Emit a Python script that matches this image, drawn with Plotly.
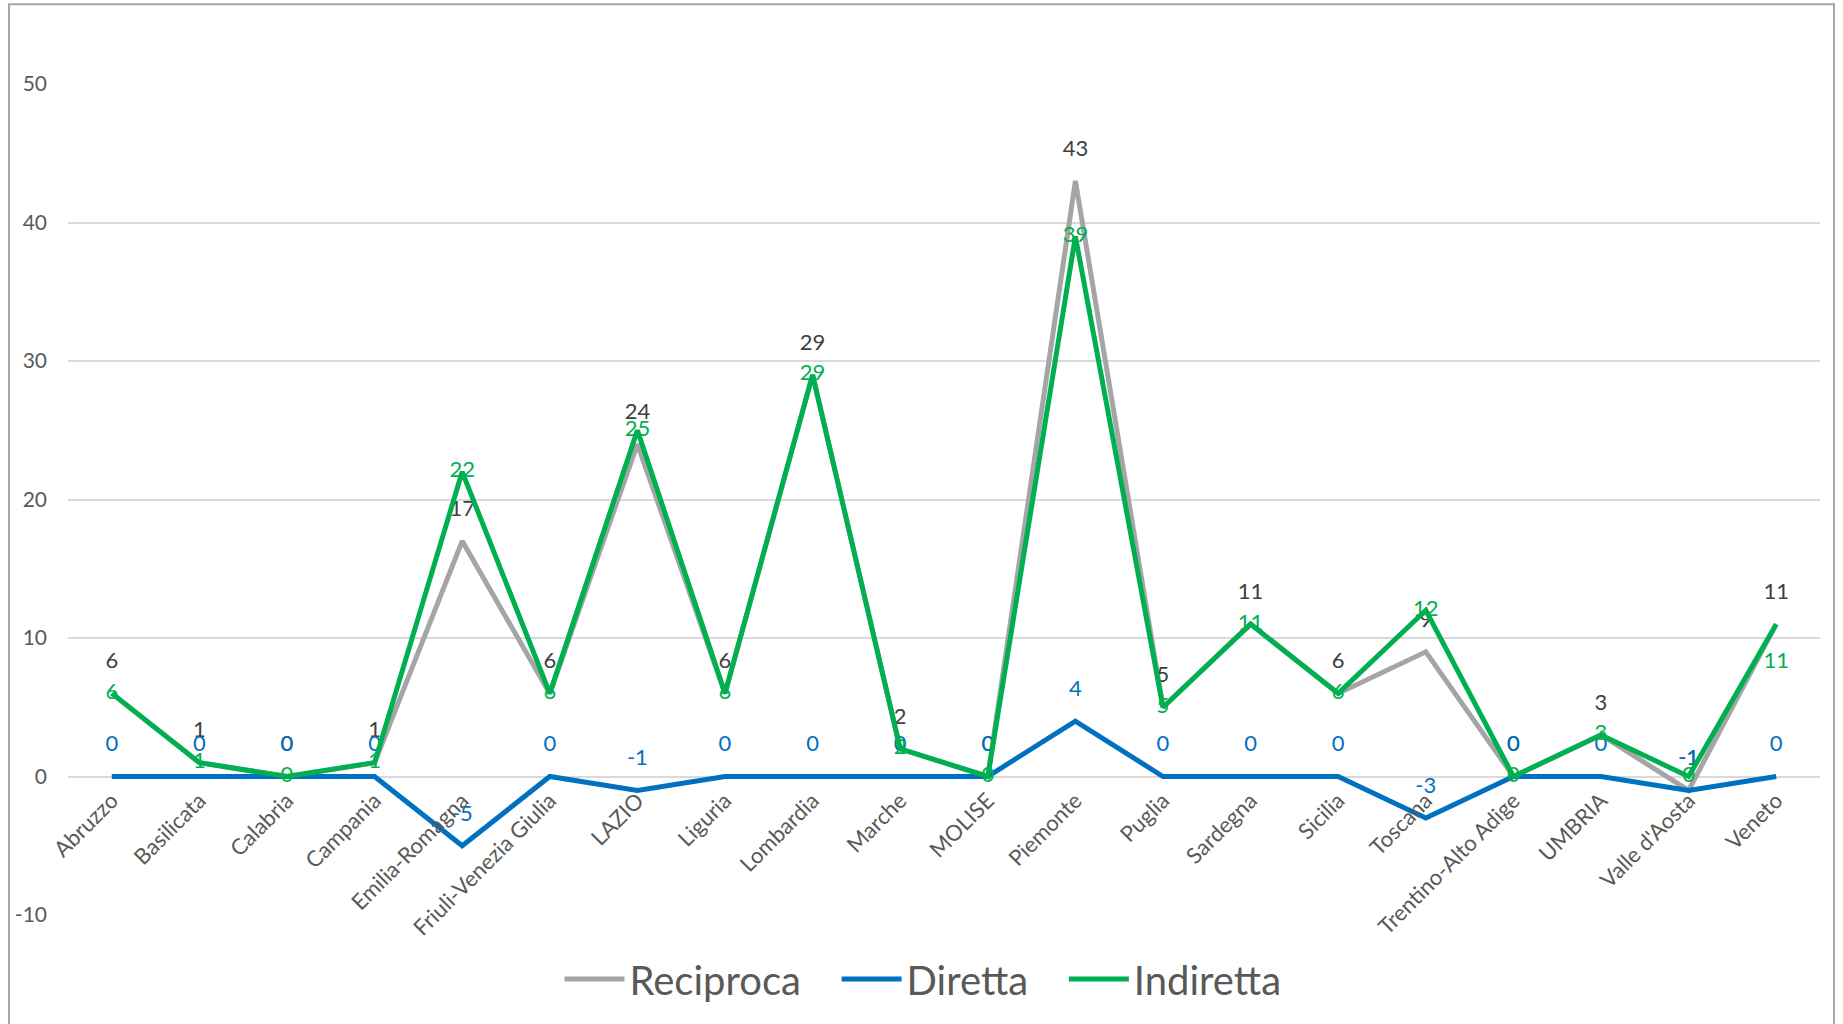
import plotly.graph_objects as go

regions = ["Abruzzo", "Basilicata", "Calabria", "Campania", "Emilia-Romagna",
           "Friuli-Venezia Giulia", "LAZIO", "Liguria", "Lombardia", "Marche",
           "MOLISE", "Piemonte", "Puglia", "Sardegna", "Sicilia", "Toscana",
           "Trentino-Alto Adige", "UMBRIA", "Valle d'Aosta", "Veneto"]
reciproca = [6, 1, 0, 1, 17, 6, 24, 6, 29, 2, 0, 43, 5, 11, 6, 9, 0, 3, -1, 11]
diretta = [0, 0, 0, 0, -5, 0, -1, 0, 0, 0, 0, 4, 0, 0, 0, -3, 0, 0, -1, 0]
indiretta = [6, 1, 0, 1, 22, 6, 25, 6, 29, 2, 0, 39, 5, 11, 6, 12, 0, 3, 0, 11]
y_ticks = [-10, 0, 10, 20, 30, 40, 50]

FONT = "Lato"
GRAY = "#A5A5A5"
BLUE = "#0070C0"
GREEN = "#00B050"
LBL = 22
PAD = "\u00a0\u00a0\u00a0"

fig = go.Figure()

fig.add_trace(go.Scatter(
    x=regions, y=reciproca, name="Reciproca" + PAD, mode="lines+markers+text",
    line=dict(color=GRAY, width=5),
    marker=dict(size=30, color="rgba(0,0,0,0)", line=dict(width=0)),
    text=[str(v) for v in reciproca], textposition="top center",
    textfont=dict(family=FONT, size=LBL, color="#404040"),
    hoverinfo="skip"))

fig.add_trace(go.Scatter(
    x=regions, y=diretta, name="Diretta" + PAD, mode="lines+markers+text",
    line=dict(color=BLUE, width=5),
    marker=dict(size=30, color="rgba(0,0,0,0)", line=dict(width=0)),
    text=[str(v) for v in diretta], textposition="top center",
    textfont=dict(family=FONT, size=LBL, color=BLUE),
    hoverinfo="skip"))

ind_pos = ["bottom center" if r == "Veneto" else "middle center" for r in regions]
ind_size = [42 if r == "Veneto" else 0 for r in regions]
fig.add_trace(go.Scatter(
    x=regions, y=indiretta, name="Indiretta", mode="lines+markers+text",
    line=dict(color=GREEN, width=5),
    marker=dict(size=ind_size, color="rgba(0,0,0,0)", line=dict(width=0)),
    text=[str(v) for v in indiretta], textposition=ind_pos,
    textfont=dict(family=FONT, size=LBL, color=GREEN),
    hoverinfo="skip"))

fig.update_layout(
    width=1843, height=1024,
    margin=dict(l=68, r=23, t=84, b=109),
    paper_bgcolor="white", plot_bgcolor="white",
    font=dict(family=FONT, color="#595959"),
    showlegend=True,
    legend=dict(orientation="h", x=0.488, xanchor="center", y=-0.077, yanchor="middle",
                font=dict(family=FONT, size=40, color="#595959"),
                itemwidth=60, traceorder="normal"),
    xaxis=dict(type="category", anchor="free", position=1/6,
               showgrid=False, showline=False, ticks="", zeroline=False,
               tickangle=-45, ticklabelstandoff=6,
               tickfont=dict(family=FONT, size=22, color="#595959"),
               range=[-0.5, len(regions) - 0.5]),
    yaxis=dict(range=[-10, 50], tickvals=y_ticks, ticktext=[str(t) for t in y_ticks],
               showgrid=True, gridcolor="#D9D9D9", gridwidth=2, zeroline=False,
               showline=False, ticks="", ticklabelstandoff=20,
               tickfont=dict(family=FONT, size=21, color="#595959")),
    shapes=[dict(type="rect", xref="paper", yref="paper",
                 x0=-0.0337, x1=1.008, y0=-0.14, y1=1.096,
                 line=dict(color="#A6A6A6", width=2), fillcolor="rgba(0,0,0,0)",
                 layer="below")],
)

fig.write_html("out.html", config={"displayModeBar": False},
               post_script="document.body.style.margin='0';")
